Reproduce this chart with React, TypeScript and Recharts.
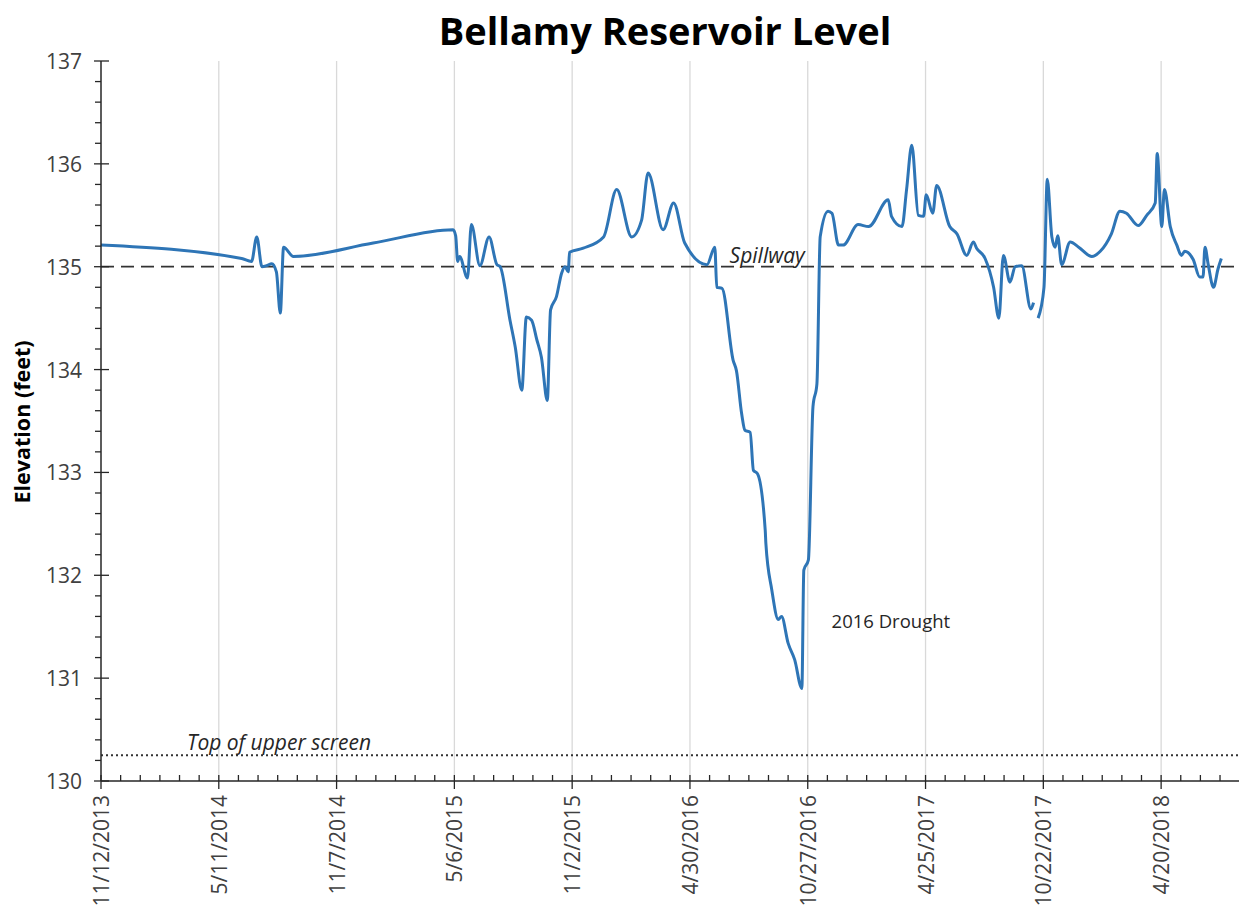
import {
  CartesianGrid,
  Line,
  LineChart,
  ReferenceDot,
  ReferenceLine,
  XAxis,
  YAxis,
} from 'recharts';

// days since 11/12/2013
const days = [
  0, 215, 230, 238, 246, 253, 261, 268, 274, 279, 294, 416, 538, 542, 545,
  548, 560, 566, 579, 593, 605, 610, 625, 633, 643, 650, 658, 666, 673, 682,
  687, 696, 704, 709, 714, 716, 737, 768, 788, 811, 826, 836, 859, 875, 892,
  926, 938, 941, 949, 966, 971, 979, 984, 992, 997, 1003, 1015, 1016, 1025,
  1035, 1040, 1050, 1060, 1071, 1074, 1081, 1088, 1094, 1099, 1111, 1117,
  1127, 1134, 1157, 1173, 1203, 1208, 1224, 1231, 1239, 1249, 1257, 1261,
  1271, 1277, 1297, 1308, 1323, 1333, 1338, 1351, 1364, 1372, 1379, 1389,
  1397, 1407, 1421, 1425, 1428, 1432, 1441, 1446, 1453, 1458, 1462, 1468,
  1481, 1494, 1514, 1527, 1544, 1557, 1567, 1585, 1598, 1611, 1614, 1621,
  1625, 1634, 1644, 1651, 1656, 1669, 1679, 1684, 1687, 1692, 1700, 1707,
  1712,
];

const elevation: (number | null)[] = [
  135.21, 135.08, 135.05, 135.29, 135.0, 135.01, 135.03, 134.95, 134.55,
  135.19, 135.1, 135.23, 135.36, 135.3, 135.05, 135.1, 134.89, 135.41, 135.01,
  135.29, 135.02, 135.0, 134.48, 134.22, 133.8, 134.51, 134.48, 134.29,
  134.12, 133.7, 134.58, 134.71, 134.94, 135.0, 134.95, 135.14, 135.18,
  135.29, 135.75, 135.29, 135.45, 135.91, 135.36, 135.62, 135.23, 135.02,
  135.19, 134.8, 134.79, 134.09, 133.99, 133.57, 133.41, 133.39, 133.02,
  132.99, 132.44, 132.31, 131.86, 131.57, 131.6, 131.34, 131.18, 130.9,
  132.05, 132.15, 133.64, 133.86, 135.29, 135.54, 135.52, 135.21, 135.21,
  135.41, 135.39, 135.65, 135.49, 135.39, 135.75, 136.18, 135.5, 135.49,
  135.7, 135.52, 135.79, 135.39, 135.32, 135.11, 135.24, 135.18, 135.08,
  134.8, 134.5, 135.11, 134.85, 135.0, 135.01, 134.59, 134.65, null, 134.5,
  134.8, 135.85, 135.29, 135.19, 135.3, 135.02, 135.24, 135.19, 135.1,
  135.15, 135.32, 135.54, 135.52, 135.4, 135.5, 135.62, 136.1, 135.39,
  135.75, 135.39, 135.21, 135.11, 135.15, 135.07, 134.9, 134.9, 135.19,
  135.02, 134.8, 134.98, 135.08,
];

const dateLabels = [
  '11/12/2013',
  '5/11/2014',
  '11/7/2014',
  '5/6/2015',
  '11/2/2015',
  '4/30/2016',
  '10/27/2016',
  '4/25/2017',
  '10/22/2017',
  '4/20/2018',
];

const X_MAX = 1739;
const MAJOR_STEP = 180;
const MINOR_STEP = 30;
const majorDays = dateLabels.map((_, i) => i * MAJOR_STEP);
const xTicks = Array.from({ length: 58 }, (_, i) => i * MINOR_STEP);
const yTicks = Array.from({ length: 36 }, (_, i) => Math.round((130 + i * 0.2) * 10) / 10);

const data = days.map((day, i) => ({ day, elevation: elevation[i] }));

const FONT = '"Open Sans", sans-serif';
const AXIS_COLOR = '#262626';
const LABEL_COLOR = '#404040';

function XTick(props: any) {
  const { x, y, payload } = props;
  const axisY = y - 14;
  const isMajor = payload.value % MAJOR_STEP === 0;
  const label = dateLabels[payload.value / MAJOR_STEP];
  return (
    <g>
      <line
        x1={x}
        x2={x}
        y1={axisY - 6}
        y2={isMajor ? axisY + 8 : axisY}
        stroke={AXIS_COLOR}
        strokeWidth={1.3}
      />
      {isMajor && (
        <text
          x={x}
          y={y}
          transform={`rotate(-90 ${x} ${y})`}
          textAnchor="end"
          dominantBaseline="central"
          fontSize={21}
          fontFamily={FONT}
          fill={LABEL_COLOR}
        >
          {label}
        </text>
      )}
    </g>
  );
}

function YTick(props: any) {
  const { x, y, payload } = props;
  const axisX = x + 19;
  const v = payload.value;
  const isMajor = Math.abs(v - Math.round(v)) < 1e-6;
  return (
    <g>
      <line
        x1={isMajor ? axisX - 7 : axisX - 6}
        x2={isMajor ? axisX + 8 : axisX}
        y1={y}
        y2={y}
        stroke={AXIS_COLOR}
        strokeWidth={1.3}
      />
      {isMajor && (
        <text
          x={x}
          y={y}
          textAnchor="end"
          dominantBaseline="central"
          fontSize={21}
          fontFamily={FONT}
          fill={LABEL_COLOR}
        >
          {v}
        </text>
      )}
    </g>
  );
}

export default function App() {
  return (
    <div
      style={{
        position: 'absolute',
        left: 0,
        top: 0,
        width: 1241,
        height: 907,
        background: '#ffffff',
        fontFamily: FONT,
      }}
    >
      <div
        style={{
          position: 'absolute',
          left: 365,
          top: 5,
          width: 600,
          textAlign: 'center',
          fontSize: 38,
          fontWeight: 700,
          color: '#000000',
          lineHeight: '50px',
        }}
      >
        Bellamy Reservoir Level
      </div>
      <div
        style={{
          position: 'absolute',
          left: 22 - 120,
          top: 422 - 15,
          width: 240,
          height: 30,
          lineHeight: '30px',
          textAlign: 'center',
          fontSize: 21.5,
          fontWeight: 700,
          color: '#000000',
          transform: 'rotate(-90deg)',
        }}
      >
        Elevation (feet)
      </div>
      <LineChart
        width={1241}
        height={907}
        data={data}
        margin={{ top: 61, right: 2, bottom: 16, left: 41 }}
        style={{ position: 'absolute', left: 0, top: 0 }}
      >
        <CartesianGrid
          horizontal={false}
          stroke="#d9d9d9"
          strokeWidth={1.3}
          verticalCoordinatesGenerator={({ offset }: any) =>
            majorDays
              .filter((d) => d > 0)
              .map((d) => offset.left + (d / X_MAX) * offset.width)
          }
        />
        <XAxis
          dataKey="day"
          type="number"
          domain={[0, X_MAX]}
          ticks={xTicks}
          interval={0}
          tickLine={false}
          tickSize={8}
          tickMargin={6}
          height={110}
          axisLine={{ stroke: AXIS_COLOR, strokeWidth: 1.5 }}
          tick={(p: any) => <XTick {...p} />}
          allowDataOverflow
        />
        <YAxis
          type="number"
          domain={[130, 137]}
          ticks={yTicks}
          interval={0}
          width={60}
          tickLine={false}
          tickSize={7}
          tickMargin={12}
          axisLine={{ stroke: AXIS_COLOR, strokeWidth: 1.5 }}
          tick={(p: any) => <YTick {...p} />}
          allowDataOverflow
        />
        <ReferenceLine
          y={135}
          stroke="#333333"
          strokeWidth={1.7}
          strokeDasharray="13 7"
        />
        <ReferenceLine
          y={130.25}
          stroke="#333333"
          strokeWidth={2}
          strokeDasharray="2 3"
        />
        <Line
          type="monotone"
          dataKey="elevation"
          stroke="#2e75b6"
          strokeWidth={3}
          dot={false}
          connectNulls={false}
          isAnimationActive={false}
        />
        <ReferenceDot
          x={1018}
          y={135}
          r={0}
          stroke="none"
          fill="none"
          label={{
            value: 'Spillway',
            position: 'top',
            offset: 4,
            fontSize: 21,
            fontStyle: 'italic',
            fontFamily: FONT,
            fill: '#262626',
          }}
        />
        <ReferenceDot
          x={272}
          y={130.25}
          r={0}
          stroke="none"
          fill="none"
          label={{
            value: 'Top of upper screen',
            position: 'top',
            offset: 5,
            fontSize: 21,
            fontStyle: 'italic',
            fontFamily: FONT,
            fill: '#262626',
          }}
        />
        <ReferenceDot
          x={1207}
          y={131.55}
          r={0}
          stroke="none"
          fill="none"
          label={{
            value: '2016 Drought',
            position: 'center',
            fontSize: 18.5,
            fontFamily: FONT,
            fill: '#262626',
          }}
        />
      </LineChart>
    </div>
  );
}
